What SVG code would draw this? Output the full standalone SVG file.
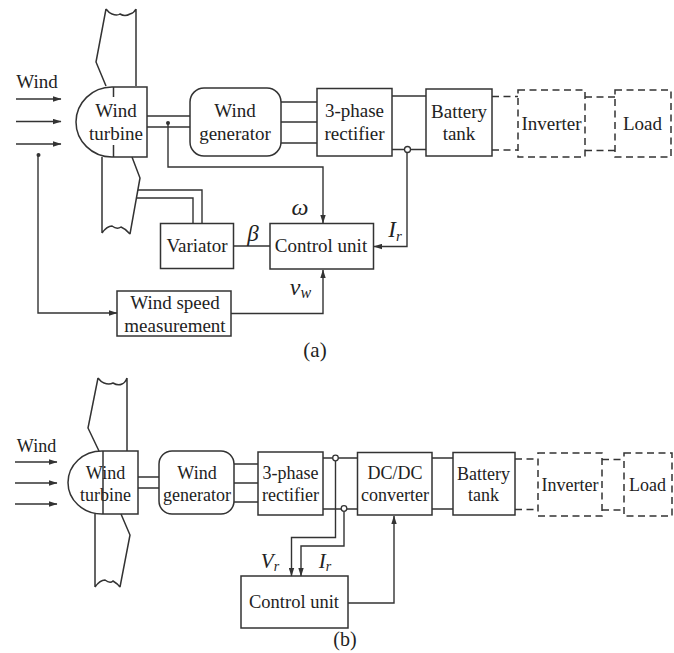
<svg xmlns="http://www.w3.org/2000/svg" width="674" height="653" viewBox="0 0 674 653">
<style>
text{font-family:"Liberation Serif","Times New Roman",serif;fill:#222;text-anchor:middle}
.a{font-size:19px}.b{font-size:18px}
.m{font-style:italic}
.s{fill:none;stroke:#333;stroke-width:1.5}
.d{fill:none;stroke:#333;stroke-width:1.5;stroke-dasharray:7 4.5}
.c{fill:none;stroke:#333;stroke-width:1.4}
.o{fill:#fff;stroke:#333;stroke-width:1.3}
</style>
<defs>
<marker id="ar" markerWidth="9" markerHeight="6" refX="8" refY="3" orient="auto" markerUnits="userSpaceOnUse"><path d="M0 0.3L8.5 3L0 5.7Z" fill="#333"/></marker>
</defs>
<rect width="674" height="653" fill="#fff"/>
<g id="connectors">
<path class="c" d="M147 116H190M147 127H190"/>
<path class="c" d="M281 102H317M281 122H317M281 143H317"/>
<path class="c" d="M392 96H426M392 149.500H426"/>
<path class="d" d="M492 96.500H518M492 150H518M585 97H615M585 150.500H615"/>
<path class="c" d="M138 190H202V223M137 198H193V223"/>
<path class="c" d="M233 246H270"/>
<path class="c" d="M168 123V167H323V223" marker-end="url(#ar)"/>
<path class="c" d="M407 153V246.500H374" marker-end="url(#ar)"/>
<path class="c" d="M38 155V313H117" marker-end="url(#ar)"/>
<path class="c" d="M231 313.500H323V270" marker-end="url(#ar)"/>
<path class="c" d="M16 99H61" marker-end="url(#ar)"/>
<path class="c" d="M16 121.500H61" marker-end="url(#ar)"/>
<path class="c" d="M16 144H61" marker-end="url(#ar)"/>
<circle cx="168" cy="123" r="2" fill="#333"/>
<circle cx="38.500" cy="155" r="2" fill="#333"/>
<circle class="o" cx="407.500" cy="149.500" r="3"/>

<path class="c" d="M138 477H159M138 488H159"/>
<path class="c" d="M234 464H258M234 483H258M234 502H258"/>
<path class="c" d="M323 458H357M323 509H357M432 458H453M432 509H453"/>
<path class="d" d="M515 459H538M515 509.500H538M602 459.500H624M602 510H624"/>
<path class="c" d="M335.500 461V537.500H291.500V576" marker-end="url(#ar)"/>
<path class="c" d="M344 512V546H301V576" marker-end="url(#ar)"/>
<path class="c" d="M348 603H394V516" marker-end="url(#ar)"/>
<path class="c" d="M15 462H57" marker-end="url(#ar)"/>
<path class="c" d="M15 483H57" marker-end="url(#ar)"/>
<path class="c" d="M15 504H57" marker-end="url(#ar)"/>
<circle class="o" cx="335.500" cy="458" r="2.800"/>
<circle class="o" cx="344" cy="508.500" r="2.800"/>
</g>

<g id="turbine-a">
<path class="s" d="M106 9L96 62L106 86M136 9V86M106 9Q109 13 112 14Q117 16 120 14Q125 17 130 14Q134 13 136 9"/>
<path class="s" d="M102 157V233M132 157L140 178L130 234M102 233Q107 226 112 226Q117 230 121 227Q126 229 130 234"/>
<path class="s" d="M147 87V157H112C92 157 76 141 76 122C76 103 92 87 112 87Z"/>
<path class="s" d="M113.500 87V97M113.500 145V157"/>
<text class="a" x="116" y="116.500">Wind</text>
<text class="a" x="116" y="139.500">turbine</text>
</g>
<g id="wind-label-a"><text class="a" x="37" y="88">Wind</text></g>
<g id="generator-a"><rect class="s" x="190" y="88" width="91" height="68" rx="14"/>
<text class="a" x="235" y="117">Wind</text><text class="a" x="235" y="140">generator</text></g>
<g id="rectifier-a"><rect class="s" x="317" y="88.500" width="75" height="67.500"/>
<text class="a" x="354.500" y="117">3-phase</text><text class="a" x="354.500" y="140">rectifier</text></g>
<g id="battery-a"><rect class="s" x="426" y="89" width="66" height="67"/>
<text class="a" x="459" y="118">Battery</text><text class="a" x="459" y="140">tank</text></g>
<g id="inverter-a"><rect class="d" x="518" y="90" width="67" height="67"/>
<text class="a" x="551.500" y="130">Inverter</text></g>
<g id="load-a"><rect class="d" x="615" y="90" width="56" height="67"/>
<text class="a" x="642.500" y="130">Load</text></g>
<g id="variator"><rect class="s" x="160.500" y="223.500" width="73" height="45"/>
<text class="a" x="197" y="252">Variator</text></g>
<g id="control-a"><rect class="s" x="270" y="223.500" width="103.500" height="45.500"/>
<text class="a" x="321" y="252">Control unit</text></g>
<g id="wind-speed"><rect class="s" x="117" y="291" width="114" height="45"/>
<text class="a" x="175" y="309">Wind speed</text><text class="a" x="175" y="332">measurement</text></g>
<text class="a m" x="300" y="215" style="font-size:24px">ω</text>
<text class="a m" x="253" y="241" style="font-size:23px">β</text>
<text class="a m" x="395" y="237" style="font-size:23px">I<tspan dy="4" style="font-size:15px">r</tspan></text>
<text class="a m" x="300.500" y="295" style="font-size:24px">v<tspan dy="3" style="font-size:16px">w</tspan></text>
<text class="a" x="315" y="357" style="font-size:21px">(a)</text>

<g id="turbine-b">
<path class="s" d="M98 378L88 428L99 451M127 378V451M98 378Q101 382 104 383Q109 385 113 383Q118 386 122 384Q125 383 127 378"/>
<path class="s" d="M95 514V587M121 514L130 535L120 587M95 587Q100 580 105 580Q110 584 113 581Q118 584 120 587"/>
<path class="s" d="M138 451V514H102C83 514 68 500 68 482.500C68 465 83 451 102 451Z"/>
<path class="s" d="M103 451V514"/>
<text class="b" x="105.500" y="478.500">Wind</text>
<text class="b" x="105.500" y="501">turbine</text>
</g>
<g id="wind-label-b"><text class="b" x="36.500" y="452">Wind</text></g>
<g id="generator-b"><rect class="s" x="159" y="451" width="75" height="63" rx="13"/>
<text class="b" x="197" y="478.500">Wind</text><text class="b" x="197" y="501">generator</text></g>
<g id="rectifier-b"><rect class="s" x="258" y="452" width="65" height="63"/>
<text class="b" x="290.500" y="479">3-phase</text><text class="b" x="290.500" y="501">rectifier</text></g>
<g id="dcdc"><rect class="s" x="357.500" y="452.500" width="74.500" height="62.500"/>
<text class="b" x="395" y="479">DC/DC</text><text class="b" x="395" y="501">converter</text></g>
<g id="battery-b"><rect class="s" x="453" y="452.500" width="62" height="62.500"/>
<text class="b" x="483.500" y="480">Battery</text><text class="b" x="483.500" y="501">tank</text></g>
<g id="inverter-b"><rect class="d" x="538" y="453" width="64" height="63"/>
<text class="b" x="570" y="491">Inverter</text></g>
<g id="load-b"><rect class="d" x="624" y="453" width="48" height="63"/>
<text class="b" x="647.500" y="491">Load</text></g>
<g id="control-b"><rect class="s" x="241" y="576" width="107" height="52"/>
<text class="b" x="294" y="608" style="font-size:18.500px">Control unit</text></g>
<text class="a m" x="270" y="568" style="font-size:21px">V<tspan dy="3" style="font-size:14px">r</tspan></text>
<text class="a m" x="325" y="568" style="font-size:21px">I<tspan dy="3" style="font-size:14px">r</tspan></text>
<text class="a" x="345" y="646" style="font-size:20px">(b)</text>
</svg>
